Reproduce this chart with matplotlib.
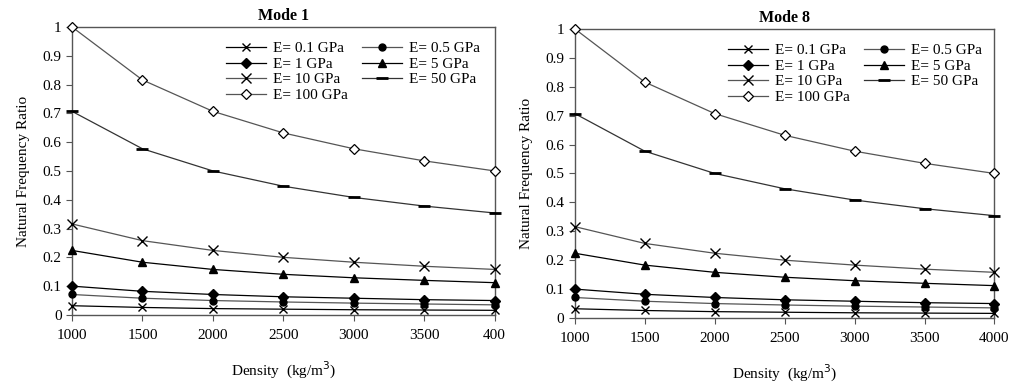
import matplotlib
matplotlib.use("Agg")
import matplotlib.pyplot as plt

density = [1000, 1500, 2000, 2500, 3000, 3500, 4000]
x_ticklabels_mode1 = ["1000", "1500", "2000", "2500", "3000", "3500", "400"]
x_ticklabels_mode8 = ["1000", "1500", "2000", "2500", "3000", "3500", "4000"]
y_ticks = [0, 0.1, 0.2, 0.3, 0.4, 0.5, 0.6, 0.7, 0.8, 0.9, 1.0]
y_ticklabels = ["0", "0.1", "0.2", "0.3", "0.4", "0.5", "0.6", "0.7", "0.8", "0.9", "1"]

labels = ["E= 0.1 GPa", "E= 0.5 GPa", "E= 1 GPa", "E= 5 GPa",
          "E= 10 GPa", "E= 50 GPa", "E= 100 GPa"]

e01 = [0.032, 0.026, 0.022, 0.020, 0.018, 0.017, 0.016]
e05 = [0.071, 0.058, 0.050, 0.045, 0.041, 0.038, 0.035]
e1 = [0.100, 0.082, 0.071, 0.063, 0.058, 0.053, 0.050]
e5 = [0.224, 0.183, 0.158, 0.141, 0.129, 0.120, 0.112]
e10 = [0.316, 0.258, 0.224, 0.200, 0.183, 0.169, 0.158]
e50 = [0.707, 0.577, 0.500, 0.447, 0.408, 0.378, 0.354]
e100 = [1.000, 0.816, 0.707, 0.632, 0.577, 0.535, 0.500]

series = [e01, e05, e1, e5, e10, e50, e100]

styles = [
    dict(marker="x", color="black", mfc="black", ms=6, mew=1.0),
    dict(marker="o", color="#555555", mfc="black", mec="black", ms=5),
    dict(marker="D", color="black", mfc="black", mec="black", ms=5),
    dict(marker="^", color="black", mfc="black", mec="black", ms=6),
    dict(marker="x", color="#555555", mfc="black", mec="black", ms=7, mew=1.0),
    dict(marker="_", color="#333333", mfc="black", mec="black", ms=8, mew=2),
    dict(marker="D", color="#555555", mfc="white", mec="black", ms=5, mew=0.9),
]

plt.rcParams["font.family"] = ["Liberation Serif", "DejaVu Serif"]

fig = plt.figure(figsize=(10.21, 3.85), dpi=100)
ax1 = fig.add_axes([0.0705, 0.182, 0.414, 0.748])
ax2 = fig.add_axes([0.563, 0.174, 0.411, 0.751])

for ax, title, xtl in [(ax1, "Mode 1", x_ticklabels_mode1), (ax2, "Mode 8", x_ticklabels_mode8)]:
    handles = []
    for vals, lab, st in zip(series, labels, styles):
        h, = ax.plot(density, vals, lw=0.9, label=lab, clip_on=False, zorder=3, **st)
        handles.append(h)
    ax.set_xlim(1000, 4000)
    ax.set_ylim(0, 1)
    ax.set_xticks(density)
    ax.set_xticklabels(xtl, fontsize=11)
    ax.set_yticks(y_ticks)
    ax.set_yticklabels(y_ticklabels, fontsize=11)
    ax.tick_params(axis="both", direction="out", length=4, width=0.8, color="#555555")
    ax.tick_params(axis="x", pad=6)
    for sp in ax.spines.values():
        sp.set_color("#555555")
        sp.set_linewidth(1.0)
    ax.set_title(title, fontsize=11.5, fontweight="bold", pad=5)
    ax.set_xlabel("Density  (kg/m$^3$)", fontsize=11, labelpad=13)
    ax.set_ylabel("Natural Frequency Ratio", fontsize=11, labelpad=9)
    order = [0, 2, 4, 6, 1, 3, 5]
    ax.legend([handles[i] for i in order], [labels[i] for i in order],
              ncol=2, loc="upper left", bbox_to_anchor=(0.35, 0.97),
              frameon=False, fontsize=11, handlelength=2.6, handletextpad=0.5,
              columnspacing=0.9, labelspacing=0.12, borderaxespad=0.0)

fig.savefig("out.png", dpi=100)
